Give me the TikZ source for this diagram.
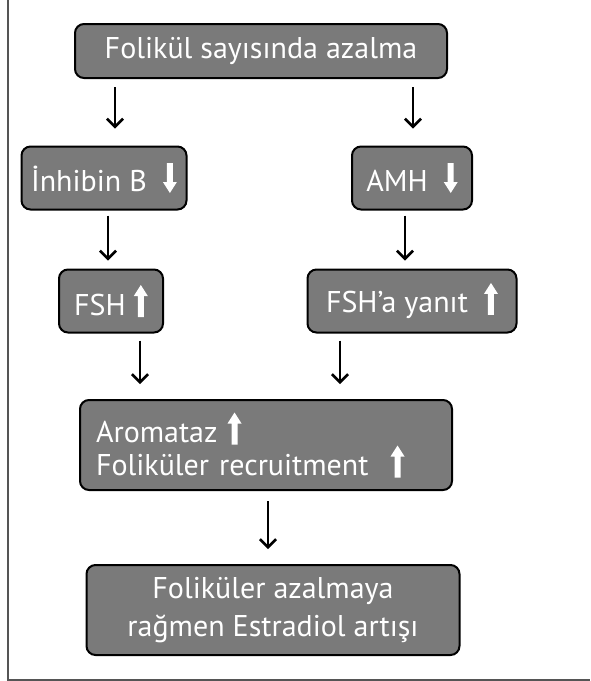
\documentclass[tikz,border=0pt]{standalone}
\usepackage{fontspec}
\setmainfont{PT Sans}
\usetikzlibrary{arrows.meta,positioning}

\definecolor{boxgray}{RGB}{122,122,122}
\definecolor{framegray}{RGB}{85,85,85}

% white block arrows inside the boxes
\newcommand{\arrup}{\tikz[baseline=0pt,sharp corners]\fill[white] (-3pt,-2pt) -- (-3pt,19pt) -- (-7pt,19pt) -- (0pt,30pt) -- (7pt,19pt) -- (3pt,19pt) -- (3pt,-2pt) -- cycle;}
\newcommand{\arrdn}{\tikz[baseline=0pt,sharp corners]\fill[white] (-3pt,28pt) -- (-3pt,9pt) -- (-7pt,9pt) -- (0pt,-2pt) -- (7pt,9pt) -- (3pt,9pt) -- (3pt,28pt) -- cycle;}

\begin{document}
\begin{tikzpicture}
  [x=1pt,y=-1pt,
   box/.style={rectangle, rounded corners=9pt, draw=black, line width=2pt, fill=boxgray,
     text=white, inner sep=0pt, font=\fontsize{30}{36}\selectfont},
   flow/.style={-{Straight Barb[length=8pt,width=16pt]}, line width=2.6pt}]
  \useasboundingbox (0,0) rectangle (590,681);
  % frame
  \draw [framegray, line width=2pt] (8,0) -- (8,680) -- (590,680);
  % boxes
  \node (top) at (261,51) [box, minimum width=372pt, minimum height=54pt] {Folikül sayısında azalma};
  \node (inh) at (104,178) [box, minimum width=165pt, minimum height=63pt] {İnhibin B\ \ \arrdn};
  \node (amh) at (412,178) [box, minimum width=120pt, minimum height=63pt] {AMH\ \ \arrdn};
  \node (fsh) at (111,301) [box, minimum width=104pt, minimum height=63pt] {FSH\ \arrup};
  \node (yanit) at (412,301) [box, minimum width=209pt, minimum height=63pt] {FSH’a yanıt\ \ \arrup};
  \node (aro) at (266,445) [box, minimum width=372pt, minimum height=90pt,
     text width=340pt, align=left, font=\fontsize{30}{33}\selectfont]
     {Aromataz\ \arrup\\Foliküler recruitment\hspace*{22pt}\arrup};
  \node (end) at (273,610) [box, minimum width=373pt, minimum height=90pt,
     align=center, font=\fontsize{30}{38}\selectfont]
     {Foliküler azalmaya\\rağmen Estradiol artışı};
  % connectors
  \foreach \a/\b/\x/\s/\e in {top/inh/115/8/17, top/amh/413/8/17, inh/fsh/108/5/8,
      amh/yanit/405/5/8, fsh/aro/140/7/15, yanit/aro/340/7/15, aro/end/268/10/15} {
    \draw [flow, shorten <=\s pt, shorten >=\e pt] (\a.south -| \x,0) -- (\b.north -| \x,0);
  };
\end{tikzpicture}
\end{document}
